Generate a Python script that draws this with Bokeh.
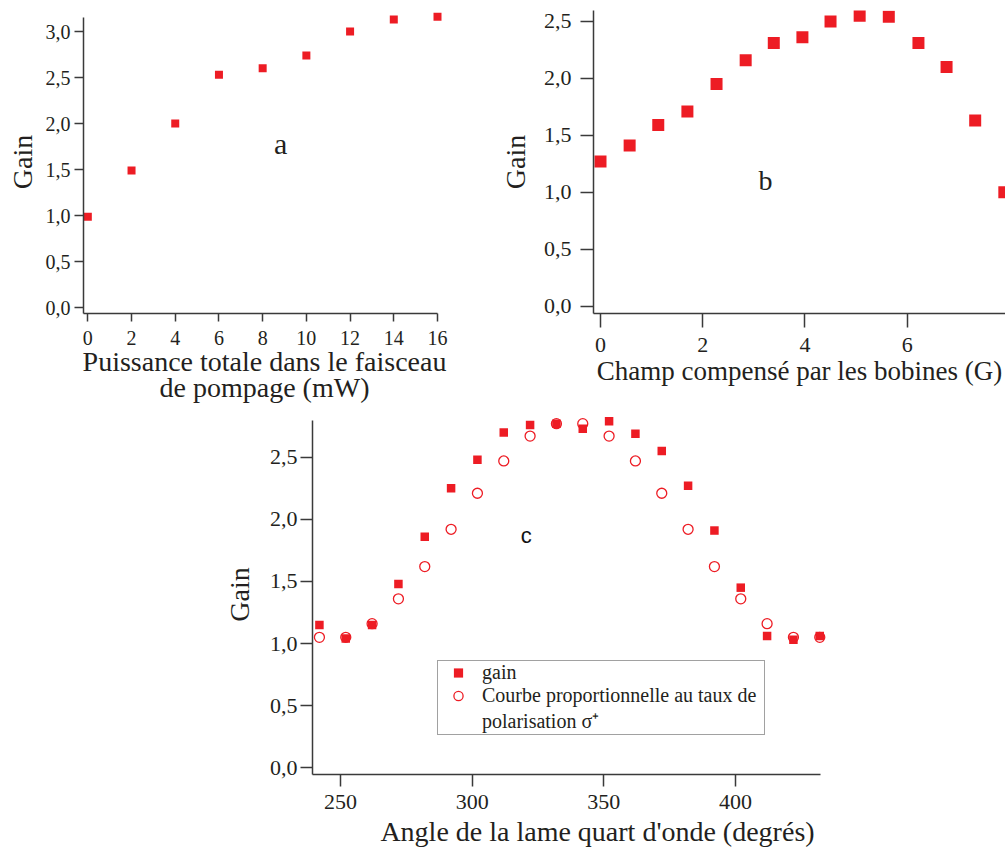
from bokeh.plotting import figure
from bokeh.layouts import row, column
from bokeh.models import Range1d, FixedTicker, Label, Legend, LegendItem, Spacer
from bokeh.embed import file_html
from bokeh.resources import INLINE

# ---------------- data ----------------
# (a) gain vs total pump power
a_power = [0, 2, 4, 6, 8, 10, 12, 14, 16]
a_gain = [0.99, 1.49, 2.00, 2.53, 2.60, 2.74, 3.00, 3.13, 3.16]

# (b) gain vs field compensated by the coils
b_field = [0.00, 0.57, 1.13, 1.70, 2.27, 2.84, 3.39, 3.95, 4.50, 5.07, 5.64, 6.22, 6.77, 7.33, 7.90]
b_gain = [1.27, 1.41, 1.59, 1.71, 1.95, 2.16, 2.31, 2.36, 2.50, 2.55, 2.54, 2.31, 2.10, 1.63, 1.00]

# (c) gain vs quarter-wave plate angle
c_angle = [242, 252, 262, 272, 282, 292, 302, 312, 322, 332,
           342, 352, 362, 372, 382, 392, 402, 412, 422, 432]
c_gain = [1.15, 1.04, 1.15, 1.48, 1.86, 2.25, 2.48, 2.70, 2.76, 2.77,
          2.73, 2.79, 2.69, 2.55, 2.27, 1.91, 1.45, 1.06, 1.03, 1.06]
c_sigma = [1.05, 1.05, 1.16, 1.36, 1.62, 1.92, 2.21, 2.47, 2.67, 2.77,
           2.77, 2.67, 2.47, 2.21, 1.92, 1.62, 1.36, 1.16, 1.05, 1.05]

# ticks
a_yticks = [0.0, 0.5, 1.0, 1.5, 2.0, 2.5, 3.0]
a_ylabels = ["0,0", "0,5", "1,0", "1,5", "2,0", "2,5", "3,0"]
bc_yticks = [0.0, 0.5, 1.0, 1.5, 2.0, 2.5]
bc_ylabels = ["0,0", "0,5", "1,0", "1,5", "2,0", "2,5"]
a_xticks = [0, 2, 4, 6, 8, 10, 12, 14, 16]
b_xticks = [0, 2, 4, 6]
c_xticks = [250, 300, 350, 400]

# ---------------- style ----------------
SERIF = "Liberation Serif"
SANS = "Liberation Sans"
INK = "#231f20"
AXIS = "#3a3a3a"
RED = "#ed1c24"


def base_fig(w, h, xr, yr, left, right, top, bottom):
    p = figure(width=w, height=h, x_range=Range1d(*xr), y_range=Range1d(*yr),
               output_backend="svg", toolbar_location=None,
               min_border_left=left, min_border_right=right,
               min_border_top=top, min_border_bottom=bottom,
               background_fill_color="white", border_fill_color="white",
               outline_line_color=None)
    p.xgrid.visible = False
    p.ygrid.visible = False
    for ax in (p.xaxis[0], p.yaxis[0]):
        ax.axis_line_color = AXIS
        ax.axis_line_width = 1.5
        ax.major_tick_line_color = AXIS
        ax.major_tick_line_width = 1.5
        ax.major_tick_in = 0
        ax.minor_tick_line_color = None
        ax.major_label_text_font = SERIF
        ax.major_label_text_color = INK
        ax.axis_label_text_font = SERIF
        ax.axis_label_text_font_style = "normal"
        ax.axis_label_text_color = INK
        ax.axis_label_text_font_size = "28px"
    return p


def set_ticks(ax, ticks, labels=None):
    ax.ticker = FixedTicker(ticks=ticks)
    if labels is not None:
        ax.major_label_overrides = dict(zip(ticks, labels))


# ---------------- figure a ----------------
pa = base_fig(480, 410, (-0.198, 16.366), (-0.0616, 3.228), 83, 35, 10, 97)
set_ticks(pa.yaxis[0], a_yticks, a_ylabels)
set_ticks(pa.xaxis[0], a_xticks)
pa.xaxis.bounds = (-0.198, 16)
pa.yaxis.bounds = (-0.0616, 3.155)
pa.yaxis.major_tick_out = 9
pa.yaxis.major_label_standoff = 4
pa.yaxis.axis_label_standoff = 5
pa.xaxis.major_tick_out = 8
pa.xaxis.major_label_standoff = 9
pa.xaxis.axis_label_standoff = -2
pa.yaxis.major_label_text_font_size = "20px"
pa.xaxis.major_label_text_font_size = "20px"
pa.yaxis.axis_label = "Gain"
pa.xaxis.axis_label = "Puissance totale dans le faisceau\nde pompage (mW)"
pa.xaxis.axis_label_text_line_height = 0.85
pa.scatter(a_power, a_gain, marker="square", size=8, fill_color=RED, line_color=None)
pa.add_layout(Label(x=8.82, y=1.784, text="a", text_font=SERIF, text_font_size="30px",
                    text_color=INK, text_align="center", text_baseline="alphabetic"))

# ---------------- figure b ----------------
pb = base_fig(525, 410, (-0.137, 7.923), (-0.0637, 2.5956), 113, 0, 8, 96)
set_ticks(pb.yaxis[0], bc_yticks, bc_ylabels)
set_ticks(pb.xaxis[0], b_xticks)
pb.yaxis.major_tick_out = 13
pb.yaxis.major_label_standoff = 9
pb.yaxis.axis_label_standoff = 10
pb.xaxis.major_tick_out = 14
pb.xaxis.major_label_standoff = 10
pb.xaxis.axis_label_standoff = 1
pb.yaxis.major_label_text_font_size = "22px"
pb.xaxis.major_label_text_font_size = "22px"
pb.yaxis.axis_label = "Gain"
pb.xaxis.axis_label = "Champ compensé par les bobines (G)"
pb.xaxis.axis_label_text_font_size = "27px"
pb.scatter(b_field, b_gain, marker="square", size=12, fill_color=RED, line_color=None)
pb.add_layout(Label(x=3.23, y=1.101, text="b", text_font=SERIF, text_font_size="28px",
                    text_color=INK, text_align="center", text_baseline="alphabetic"))

# ---------------- figure c ----------------
pc = base_fig(620, 439, (239.37, 434.56), (-0.054, 2.844), 92, 14, 4, 75)
set_ticks(pc.yaxis[0], bc_yticks, bc_ylabels)
set_ticks(pc.xaxis[0], c_xticks)
pc.xaxis.bounds = (239.37, 432.3)
pc.yaxis.bounds = (-0.054, 2.795)
pc.yaxis.major_tick_out = 12
pc.yaxis.major_label_standoff = 3
pc.yaxis.axis_label_standoff = 12
pc.xaxis.major_tick_out = 12
pc.xaxis.major_label_standoff = 8
pc.xaxis.axis_label_standoff = 4
pc.yaxis.major_label_text_font_size = "22px"
pc.xaxis.major_label_text_font_size = "22px"
pc.yaxis.axis_label = "Gain"
pc.xaxis.axis_label = "\u00a0" * 8 + "Angle de la lame quart d'onde (degrés)"

r_gain = pc.scatter(c_angle, c_gain, marker="square", size=8.5, fill_color=RED, line_color=None)
r_sigma = pc.scatter(c_angle, c_sigma, marker="circle", size=10, fill_color=None,
                     line_color=RED, line_width=1.3)
r_blank = pc.scatter([], [], marker="circle", size=1, fill_color=None, line_color=None)

pc.add_layout(Label(x=320.5, y=1.870, text="c", text_font=SANS, text_font_size="22px",
                    text_color="#111111", text_align="center", text_baseline="alphabetic"))

legend = Legend(items=[
    LegendItem(label="gain", renderers=[r_gain]),
    LegendItem(label="Courbe proportionnelle au taux de", renderers=[r_sigma]),
    LegendItem(label="polarisation σ⁺", renderers=[r_blank]),
], location=(125, 39))
legend.padding = 0
legend.spacing = 0
legend.margin = 0
legend.glyph_width = 40
legend.glyph_height = 23
legend.label_height = 23
legend.label_standoff = 4
legend.label_width = 282
legend.label_text_font = SERIF
legend.label_text_font_size = "20px"
legend.label_text_line_height = 1.0
legend.label_text_color = INK
legend.border_line_color = "#444444"
legend.border_line_width = 1.5
legend.background_fill_color = "white"
legend.background_fill_alpha = 1.0
pc.add_layout(legend)

layout = column(row(pa, pb), row(Spacer(width=220, height=439), pc))

with open("out.html", "w") as f:
    f.write(file_html(layout, INLINE))
